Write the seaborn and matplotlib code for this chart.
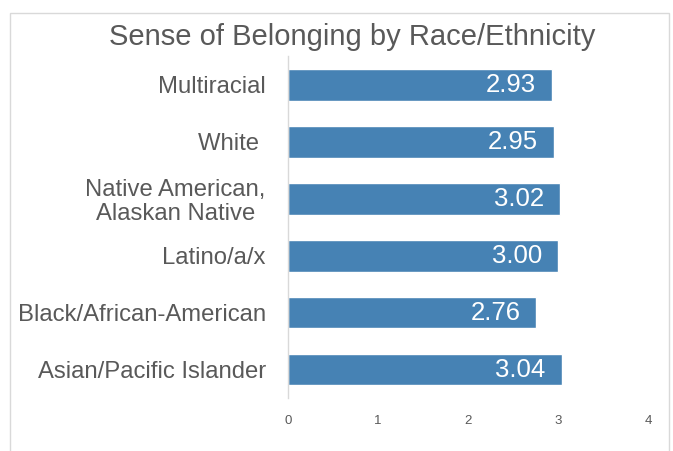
import matplotlib
matplotlib.use('Agg')
import matplotlib.pyplot as plt
import seaborn as sns
import pandas as pd
from matplotlib.patches import Rectangle

groups = ['Multiracial', 'White ', 'Native American,\nAlaskan Native', 'Latino/a/x',
          'Black/African-American', 'Asian/Pacific Islander']
scores = [2.93, 2.95, 3.02, 3.00, 2.76, 3.04]
xticks = [0, 1, 2, 3, 4]

df = pd.DataFrame({'group': groups, 'score': scores})

sns.set_theme(style='white')
plt.rcParams['font.family'] = ['Liberation Sans', 'DejaVu Sans']

fig = plt.figure(figsize=(6.73, 4.51), dpi=100)
ax = fig.add_axes([0.428, 0.1175, 0.535, 0.758])

sns.barplot(data=df, x='score', y='group', orient='h', color='#4682B4',
            saturation=1, width=0.56, ax=ax)

# value labels sit inside the bar end, in white
for p, v in zip(ax.patches, scores):
    ax.text(p.get_width() - 0.18, p.get_y() + p.get_height() / 2, f'{v:.2f}',
            ha='right', va='center', color='white', fontsize=18.5)

ax.set_xlim(0, 4)
ax.set_xticks(xticks)
ax.set_ylim(5.5, -0.5)
ax.set_xlabel('')
ax.set_ylabel('')
ax.tick_params(axis='x', length=0, labelsize=9.5, labelcolor='#595959', pad=12)
ax.tick_params(axis='y', length=0, labelsize=17.2, labelcolor='#595959', pad=16)
for lbl in ax.get_yticklabels():
    lbl.set_multialignment('center')
    lbl.set_linespacing(1.1)

for s in ['top', 'right', 'bottom']:
    ax.spines[s].set_visible(False)
ax.spines['left'].set_color('#d9d9d9')
ax.spines['left'].set_linewidth(1)

fig.text(0.523, 0.918, 'Sense of Belonging by Race/Ethnicity', ha='center', va='center',
         fontsize=21, color='#595959')

frame = Rectangle((10 / 673, -0.05), 659 / 673, 1.05 - 13 / 451, transform=fig.transFigure,
                  fill=False, edgecolor='#d9d9d9', linewidth=1)
fig.patches.append(frame)

fig.savefig('out.png', dpi=100)
